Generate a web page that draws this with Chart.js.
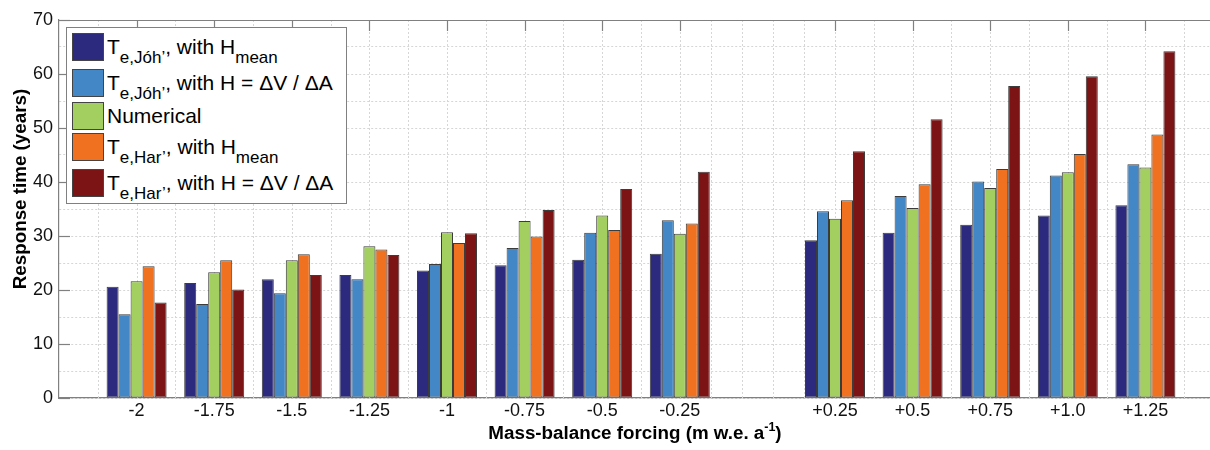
<!DOCTYPE html>
<html>
<head>
<meta charset="utf-8">
<script src="https://cdn.jsdelivr.net/npm/chart.js@4/dist/chart.umd.min.js"></script>
<style>
  html, body { margin: 0; padding: 0; background: #fff; overflow: hidden; }
  #wrap { position: relative; width: 1226px; height: 450px; }
  #legend {
    position: absolute; left: 66px; top: 27px; width: 279px; height: 175px;
    border: 1px solid #808080; background: #fff;
    font-family: 'Liberation Sans', Arial, sans-serif; font-size: 21px; color: #000;
  }
  #legend .row { position: absolute; left: 5px; height: 28px; white-space: nowrap; }
  #legend .sw { position: absolute; left: 0; top: 0; width: 30px; height: 26px; border: 1px solid #444; }
  #legend .txt { position: absolute; left: 35px; top: 4px; line-height: 20px; }
  #legend sub { font-size: 17px; vertical-align: -9px; line-height: 0; }
</style>
</head>
<body>
<div id="wrap">
  <canvas id="myChart"></canvas>
  <div id="legend"></div>
</div>
<script>
// mass-balance forcing categories ('' = empty slot between the two groups)
const forcing = ['-2', '-1.75', '-1.5', '-1.25', '-1', '-0.75', '-0.5', '-0.25', '',
                 '+0.25', '+0.5', '+0.75', '+1.0', '+1.25'];

// response times (years)
const tJohMean  = [20.6, 21.3, 22.0, 22.8, 23.6, 24.6, 25.6, 26.7, null, 29.2, 30.6, 32.1, 33.8, 35.7];
const tJohDvDa  = [15.5, 17.4, 19.4, 22.0, 24.8, 27.8, 30.6, 32.9, null, 34.6, 37.4, 40.1, 41.2, 43.3];
const numerical = [21.6, 23.3, 25.5, 28.1, 30.7, 32.8, 33.8, 30.4, null, 33.2, 35.2, 38.9, 41.8, 42.7];
const tHarMean  = [24.4, 25.5, 26.6, 27.5, 28.7, 29.9, 31.1, 32.3, null, 36.6, 39.6, 42.4, 45.2, 48.8];
const tHarDvDa  = [17.7, 20.1, 22.8, 26.5, 30.5, 34.8, 38.7, 41.9, null, 45.7, 51.6, 57.8, 59.6, 64.2];

const seriesNames = [
  'T_{e,Jóh’}, with H_{mean}',
  'T_{e,Jóh’}, with H = ΔV / ΔA',
  'Numerical',
  'T_{e,Har’}, with H_{mean}',
  'T_{e,Har’}, with H = ΔV / ΔA'
];
const seriesColors = ['#2b2a7e', '#4387c7', '#a3cf60', '#f07221', '#7c1416'];

const yTicks = [0, 10, 20, 30, 40, 50, 60, 70];

const gridColor = '#d6d6d6';
const axisColor = '#808080';
const fontFamily = "'Liberation Sans', Arial, sans-serif";

// axis runs one slot beyond each end
const labels = [''].concat(forcing, ['']);
const pad = arr => [null].concat(arr, [null]);

// vertical grid: every category, halfway between, 4 lines across the gap
const last = labels.length - 1;
const isGap = i => i > 0 && i < last && !labels[i];
const vGrid = [];
for (let i = 0; i < last; i++) {
  if (labels[i]) vGrid.push(i);
  if (isGap(i)) continue;
  if (isGap(i + 1)) vGrid.push(i + 0.4, i + 0.8, i + 1.2, i + 1.6);
  else vGrid.push(i + 0.5);
}

function line(ctx, x1, y1, x2, y2) {
  ctx.beginPath(); ctx.moveTo(x1, y1); ctx.lineTo(x2, y2); ctx.stroke();
}

const framePlugin = {
  id: 'frame',
  beforeDatasetsDraw(chart) {
    const {ctx, chartArea: a, scales: {x}} = chart;
    ctx.save();
    ctx.strokeStyle = gridColor;
    ctx.lineWidth = 1;
    ctx.setLineDash([2, 2]);
    vGrid.forEach(v => {
      const px = Math.round(x.getPixelForValue(v)) + 0.5;
      line(ctx, px, a.top, px, a.bottom);
    });
    ctx.restore();
  },
  afterDatasetsDraw(chart) {
    const {ctx, chartArea: a, scales: {x, y}} = chart;
    ctx.save();
    ctx.strokeStyle = axisColor;
    ctx.lineWidth = 1.2;
    line(ctx, a.left, Math.round(a.top) + 0.5, a.right, Math.round(a.top) + 0.5);
    labels.forEach((l, i) => {
      if (!l) return;
      const px = Math.round(x.getPixelForValue(i)) + 0.5;
      line(ctx, px, a.top, px, a.top + 11);
    });
    yTicks.forEach(v => {
      const py = Math.round(y.getPixelForValue(v)) + 0.5;
      line(ctx, a.left, py, a.left + 11, py);
    });
    ctx.restore();
  },
  afterDraw(chart) {
    const {ctx} = chart;
    const big = 'bold 18.8px ' + fontFamily;
    const small = 'bold 12.5px ' + fontFamily;

    // y title
    ctx.save();
    ctx.fillStyle = '#000';
    ctx.font = big;
    ctx.translate(26, 189);
    ctx.rotate(-Math.PI / 2);
    ctx.textAlign = 'center';
    ctx.textBaseline = 'alphabetic';
    ctx.fillText('Response time (years)', 0, 0);
    ctx.restore();

    // x title with superscript
    ctx.save();
    ctx.fillStyle = '#000';
    const main = 'Mass-balance forcing (m w.e. a';
    const sup = '-1';
    const tail = ')';
    ctx.font = big;
    const w1 = ctx.measureText(main).width;
    const w3 = ctx.measureText(tail).width;
    ctx.font = small;
    const w2 = ctx.measureText(sup).width;
    let xs = 635 - (w1 + w2 + w3) / 2;
    const base = 439;
    ctx.textBaseline = 'alphabetic';
    ctx.font = big; ctx.fillText(main, xs, base); xs += w1;
    ctx.font = small; ctx.fillText(sup, xs, base - 8); xs += w2;
    ctx.font = big; ctx.fillText(tail, xs, base);
    ctx.restore();
  }
};

const series = [tJohMean, tJohDvDa, numerical, tHarMean, tHarDvDa];
const plain = s => s.replace(/_\{([^}]*)\}/g, '$1');

Chart.defaults.font.family = fontFamily;
Chart.defaults.color = '#000';

const ctx = document.getElementById('myChart');
new Chart(ctx, {
  type: 'bar',
  data: {
    labels: labels,
    datasets: series.map((vals, k) => ({
      label: plain(seriesNames[k]),
      data: pad(vals),
      backgroundColor: seriesColors[k],
      borderColor: '#3c3c3c',
      borderWidth: 1,
      borderSkipped: false,
      categoryPercentage: 0.773,
      barPercentage: 1.0
    }))
  },
  options: {
    responsive: true,
    maintainAspectRatio: false,
    animation: false,
    layout: { padding: { top: 20, right: 3, left: 0, bottom: 0 } },
    plugins: { legend: { display: false }, tooltip: { enabled: false } },
    scales: {
      x: {
        type: 'category',
        offset: false,
        grid: { display: false, drawTicks: false },
        border: { color: axisColor, width: 1.2 },
        ticks: { autoSkip: false, maxRotation: 0, padding: 2, font: { size: 18 }, color: '#111' },
        afterFit: s => { s.height = 52; }
      },
      y: {
        min: 0,
        max: 70,
        grid: { color: gridColor, drawTicks: false },
        border: { color: axisColor, width: 1.2, dash: [2, 2] },
        ticks: {
          stepSize: 5,
          padding: 6,
          font: { size: 18 },
          color: '#111',
          callback: v => (v % 10 === 0 ? v : '')
        },
        afterFit: s => { s.width = 59; }
      }
    }
  },
  plugins: [framePlugin]
});

// legend with subscripts as html text
const legendTops = [5, 41, 74, 105, 141];
const legend = document.getElementById('legend');
seriesNames.forEach((name, k) => {
  const row = document.createElement('div');
  row.className = 'row';
  row.style.top = legendTops[k] + 'px';
  const html = name.replace(/_\{([^}]*)\}/g, '<sub>$1</sub>');
  row.innerHTML = '<div class="sw" style="background:' + seriesColors[k] + '"></div>' +
                  '<span class="txt">' + html + '</span>';
  legend.appendChild(row);
});
</script>
</body>
</html>
